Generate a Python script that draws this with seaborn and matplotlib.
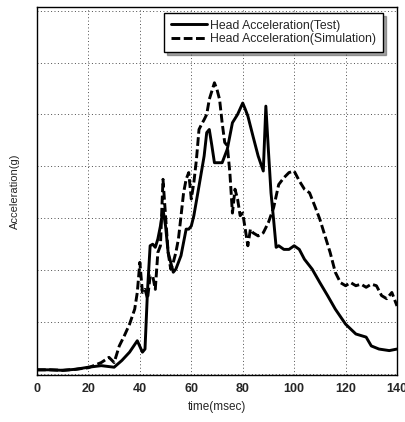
import numpy as np
import pandas as pd
import matplotlib
matplotlib.use("Agg")
import matplotlib.pyplot as plt
import seaborn as sns

test_t = [0, 5, 10, 15, 20, 25, 30, 33, 36, 39, 41, 42, 43, 44, 45, 46, 47, 48, 49, 50, 51, 52, 53, 54,
          56, 58, 59, 60, 61, 63, 65, 66, 67, 68, 69, 70, 72, 74, 76, 78, 80, 81, 82, 84, 86, 88, 89,
          90, 91, 92, 93, 94, 96, 98, 100, 102, 104, 107, 110, 113, 116, 120, 124, 128, 130, 133, 137, 140]
test_a = [0.08, 0.08, 0.07, 0.09, 0.13, 0.16, 0.13, 0.26, 0.42, 0.64, 0.42, 0.48, 1.63, 2.47, 2.5, 2.44,
          2.6, 2.85, 3.17, 2.85, 2.34, 2.15, 1.96, 2.02, 2.28, 2.79, 2.79, 2.85, 3.05, 3.62, 4.2, 4.65,
          4.71, 4.4, 4.07, 4.07, 4.07, 4.33, 4.84, 5.0, 5.22, 5.1, 4.97, 4.58, 4.2, 3.91, 5.16, 4.3,
          3.49, 2.98, 2.44, 2.47, 2.4, 2.4, 2.47, 2.4, 2.21, 2.02, 1.76, 1.51, 1.25, 0.96, 0.77, 0.71,
          0.54, 0.48, 0.45, 0.48]

sim_t = [0, 5, 10, 15, 20, 25, 28, 30, 32, 34, 36, 38, 39, 40, 41, 42, 43, 44, 45, 46, 47, 48, 49, 50,
         51, 52, 53, 54, 55, 56, 57, 58, 59, 60, 61, 62, 63, 64, 65, 66, 67, 68, 69, 70, 71, 72, 73, 74,
         75, 76, 77, 78, 79, 80, 82, 83, 84, 86, 88, 90, 92, 94, 96, 98, 100, 102, 104, 106, 108, 110,
         112, 114, 116, 118, 120, 122, 124, 126, 128, 130, 132, 134, 136, 138, 140]
sim_a = [0.08, 0.08, 0.07, 0.09, 0.12, 0.22, 0.32, 0.22, 0.54, 0.74, 0.96, 1.25, 1.57, 2.15, 1.57, 1.63,
         1.45, 1.89, 1.89, 1.63, 2.34, 2.47, 3.75, 3.04, 2.34, 2.02, 2.15, 2.34, 2.6, 3.04, 3.49, 3.75,
         3.88, 3.37, 3.69, 4.13, 4.71, 4.81, 4.9, 5.0, 5.29, 5.45, 5.61, 5.48, 5.29, 4.84, 4.46, 4.4,
         3.88, 3.1, 3.56, 3.37, 3.05, 3.1, 2.47, 2.79, 2.72, 2.66, 2.72, 2.92, 3.2, 3.65, 3.78, 3.88,
         3.91, 3.72, 3.56, 3.49, 3.24, 2.98, 2.66, 2.34, 1.96, 1.76, 1.7, 1.76, 1.7, 1.73, 1.67, 1.73,
         1.7, 1.51, 1.45, 1.57, 1.31]

labels = ["Head Acceleration(Test)", "Head Acceleration(Simulation)"]
x_ticks = [0, 20, 40, 60, 80, 100, 120, 140]

df = pd.concat([
    pd.DataFrame({"t": test_t, "a": test_a, "series": labels[0]}),
    pd.DataFrame({"t": sim_t, "a": sim_a, "series": labels[1]}),
])

sns.set_style("white")
plt.rcParams['font.family'] = ['Liberation Sans', 'DejaVu Sans']

fig = plt.figure(figsize=(4.05, 4.22), dpi=100)
ax = fig.add_axes([37/405, 47/422, 360/405, 368/422])

sns.lineplot(data=df, x="t", y="a", hue="series", style="series",
             palette=["black", "black"], dashes=[(None, None), (3, 1.2)],
             linewidth=2.1, ax=ax, estimator=None, sort=True)

ax.set_xlim(0, 140)
ax.set_ylim(-0.02, 7.07)
ax.set_xticks(x_ticks)
ax.set_xticklabels([str(v) for v in x_ticks], fontsize=9, fontweight='bold')
ax.set_yticks(range(0, 8))
ax.set_yticklabels([])
ax.tick_params(direction='in', length=3, color='black', pad=6)
ax.grid(True, color='0.3', linestyle=(0, (1, 2.5)), linewidth=0.7)
for s in ax.spines.values():
    s.set_color('black')
    s.set_linewidth(1.0)

ax.set_xlabel("time(msec)", fontsize=8.5, labelpad=4)
ax.set_ylabel("Acceleration(g)", fontsize=8, labelpad=6)

leg = ax.legend(loc='upper right', bbox_to_anchor=(0.961, 0.984), borderaxespad=0,
                fontsize=8.8, frameon=True, fancybox=False,
                shadow=True, handlelength=3.0, handletextpad=0.25, borderpad=0.55,
                labelspacing=0.15)
leg.get_frame().set_edgecolor('black')
leg.get_frame().set_linewidth(1.0)
leg.set_title(None)

fig.savefig("out.png", dpi=100)
